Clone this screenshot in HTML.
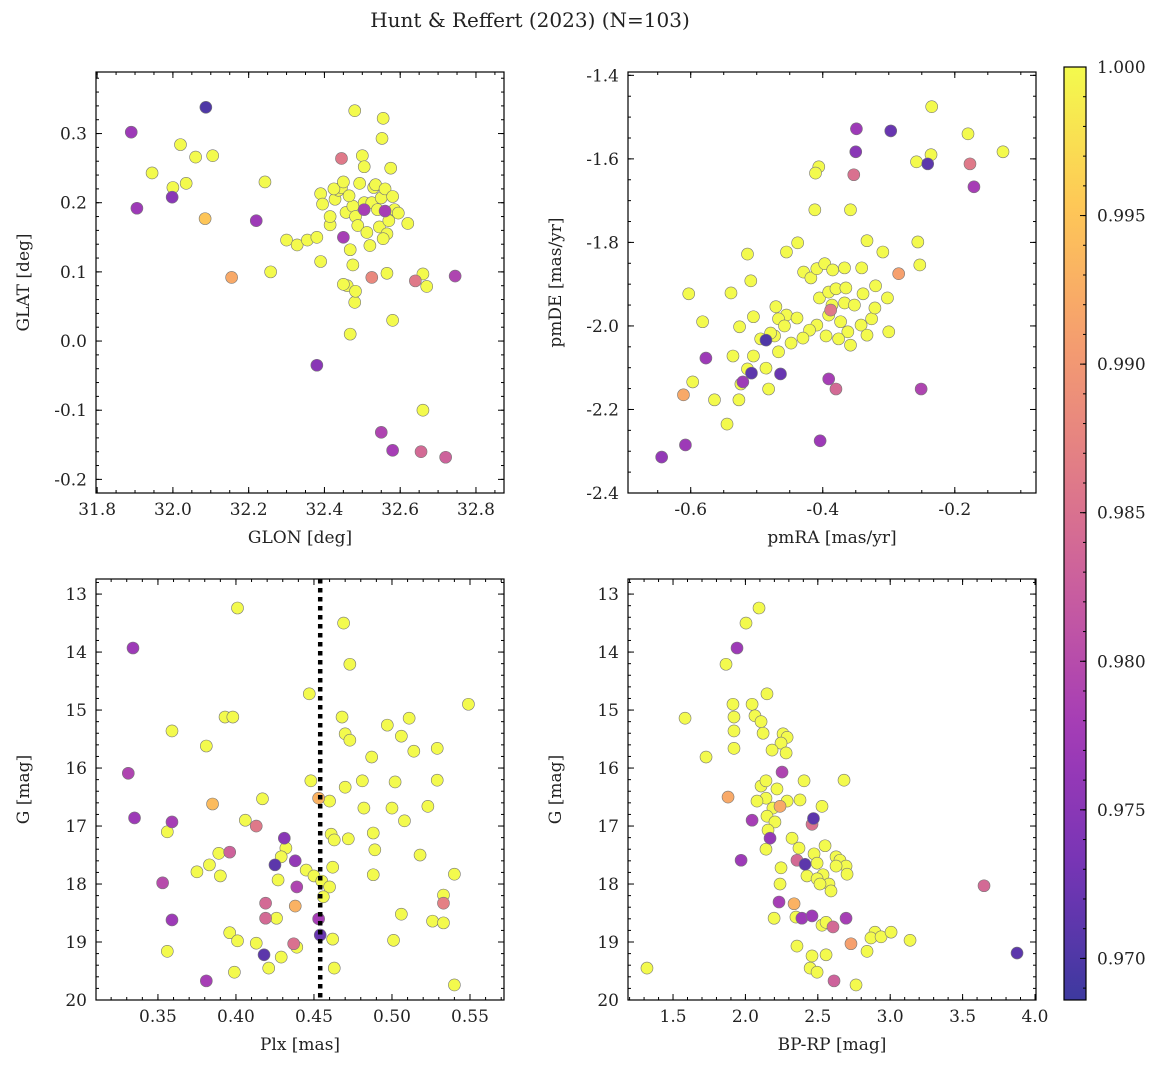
<!DOCTYPE html>
<html><head><meta charset="utf-8"><style>
body{margin:0;background:#fff}
svg text{font-family:"DejaVu Serif","Liberation Serif",serif;fill:#222}
</style></head><body>
<svg id="chart" width="1161" height="1067" viewBox="0 0 1161 1067" xmlns="http://www.w3.org/2000/svg">
<text x="530" y="27" font-size="20" text-anchor="middle">Hunt &amp; Reffert (2023) (N=103)</text>
<defs><linearGradient id="cbg" x1="0" y1="1" x2="0" y2="0"></linearGradient></defs>
</svg>
<script>
// ---- data (value, value, membership probability) ----
const tlYellow=[[31.945,0.243],[32.0,0.222],[32.02,0.284],[32.035,0.228],[32.06,0.266],[32.105,0.268],[32.243,0.230],[32.258,0.1],[32.3,0.146],[32.328,0.139],[32.355,0.146],[32.38,0.150],[32.39,0.115],[32.39,0.213],[32.395,0.198],[32.415,0.168],[32.428,0.205],[32.437,0.218],[32.445,0.222],[32.457,0.186],[32.46,0.08],[32.468,0.132],[32.468,0.01],[32.48,0.333],[32.475,0.195],[32.482,0.18],[32.488,0.167],[32.493,0.228],[32.5,0.268],[32.505,0.2],[32.512,0.157],[32.52,0.138],[32.525,0.2],[32.53,0.222],[32.535,0.226],[32.54,0.19],[32.545,0.165],[32.55,0.207],[32.56,0.22],[32.565,0.155],[32.57,0.174],[32.575,0.25],[32.58,0.209],[32.585,0.19],[32.475,0.11],[32.48,0.056],[32.482,0.072],[32.45,0.082],[32.505,0.252],[32.555,0.322],[32.552,0.293],[32.555,0.148],[32.565,0.098],[32.58,0.03],[32.595,0.185],[32.62,0.17],[32.66,0.097],[32.67,0.079],[32.66,-0.1],[32.425,0.22],[32.415,0.18],[32.45,0.23],[32.465,0.21]];
const tlOther=[[31.89,0.302,.977],[31.905,0.192,.977],[31.998,0.208,.975],[32.087,0.338,.970],[32.22,0.174,.977],[32.085,0.177,.995],[32.155,0.092,.992],[32.445,0.264,.986],[32.45,0.15,.978],[32.505,0.19,.978],[32.56,0.188,.978],[32.525,0.092,.988],[32.38,-0.035,.975],[32.55,-0.132,.979],[32.58,-0.158,.978],[32.64,0.087,.986],[32.655,-0.16,.984],[32.72,-0.168,.983],[32.745,0.094,.979]];
const trYellow=[[-0.235,-1.475],[-0.180,-1.540],[-0.236,-1.590],[-0.258,-1.607],[-0.127,-1.583],[-0.406,-1.619],[-0.411,-1.634],[-0.412,-1.722],[-0.358,-1.722],[-0.438,-1.801],[-0.455,-1.823],[-0.256,-1.799],[-0.253,-1.854],[-0.333,-1.796],[-0.309,-1.823],[-0.429,-1.871],[-0.418,-1.885],[-0.409,-1.863],[-0.397,-1.851],[-0.385,-1.866],[-0.367,-1.861],[-0.341,-1.861],[-0.405,-1.933],[-0.391,-1.919],[-0.380,-1.911],[-0.365,-1.909],[-0.339,-1.923],[-0.320,-1.904],[-0.302,-1.933],[-0.386,-1.950],[-0.367,-1.945],[-0.352,-1.950],[-0.391,-1.974],[-0.342,-1.998],[-0.326,-1.983],[-0.300,-2.014],[-0.362,-2.014],[-0.333,-2.022],[-0.358,-2.046],[-0.376,-2.031],[-0.409,-1.998],[-0.395,-2.024],[-0.420,-2.010],[-0.430,-2.029],[-0.448,-2.041],[-0.467,-2.062],[-0.473,-2.024],[-0.494,-2.031],[-0.479,-2.017],[-0.455,-1.974],[-0.439,-1.981],[-0.471,-1.954],[-0.467,-1.983],[-0.458,-2.0],[-0.514,-1.828],[-0.509,-1.892],[-0.526,-2.002],[-0.539,-1.921],[-0.505,-1.978],[-0.536,-2.072],[-0.505,-2.072],[-0.486,-2.101],[-0.514,-2.103],[-0.524,-2.139],[-0.527,-2.177],[-0.545,-2.235],[-0.597,-2.134],[-0.564,-2.177],[-0.582,-1.990],[-0.603,-1.923],[-0.482,-2.151],[-0.373,-1.990],[-0.321,-1.957]];
const trOther=[[-0.644,-2.314,.976],[-0.608,-2.285,.977],[-0.577,-2.077,.977],[-0.611,-2.165,.992],[-0.521,-2.134,.977],[-0.508,-2.113,.971],[-0.486,-2.034,.970],[-0.464,-2.115,.972],[-0.349,-1.528,.977],[-0.350,-1.583,.975],[-0.353,-1.638,.985],[-0.297,-1.533,.972],[-0.241,-1.612,.971],[-0.177,-1.612,.986],[-0.171,-1.667,.978],[-0.251,-2.151,.979],[-0.285,-1.875,.991],[-0.388,-1.962,.986],[-0.391,-2.127,.978],[-0.380,-2.151,.984],[-0.404,-2.275,.977]];
const blYellow=[[0.401,13.24],[0.469,13.5],[0.473,14.21],[0.447,14.72],[0.549,14.9],[0.359,15.36],[0.393,15.12],[0.398,15.12],[0.381,15.62],[0.468,15.12],[0.47,15.41],[0.473,15.52],[0.497,15.26],[0.511,15.14],[0.506,15.45],[0.514,15.71],[0.529,15.66],[0.487,15.81],[0.47,16.33],[0.481,16.22],[0.448,16.22],[0.417,16.53],[0.46,16.57],[0.502,16.24],[0.529,16.21],[0.523,16.66],[0.482,16.69],[0.5,16.69],[0.356,17.1],[0.406,16.9],[0.508,16.91],[0.461,17.14],[0.472,17.22],[0.463,17.24],[0.488,17.12],[0.489,17.41],[0.432,17.38],[0.429,17.53],[0.389,17.47],[0.518,17.5],[0.383,17.67],[0.39,17.86],[0.375,17.79],[0.427,17.93],[0.445,17.76],[0.45,17.86],[0.455,17.95],[0.46,18.05],[0.456,18.22],[0.462,17.71],[0.488,17.84],[0.54,17.83],[0.533,18.19],[0.506,18.52],[0.426,18.59],[0.526,18.64],[0.533,18.67],[0.396,18.84],[0.401,18.98],[0.413,19.02],[0.439,19.09],[0.462,18.95],[0.501,18.97],[0.356,19.16],[0.421,19.45],[0.429,19.26],[0.463,19.45],[0.399,19.52],[0.54,19.74]];
const blOther=[[0.334,13.93,.977],[0.331,16.09,.979],[0.335,16.86,.977],[0.353,17.98,.980],[0.359,16.93,.978],[0.359,18.62,.977],[0.381,19.67,.978],[0.385,16.62,.994],[0.396,17.45,.983],[0.413,17.0,.986],[0.425,17.67,.971],[0.431,17.21,.975],[0.438,17.6,.976],[0.439,18.05,.979],[0.438,18.38,.993],[0.419,18.33,.984],[0.419,18.59,.984],[0.418,19.22,.971],[0.437,19.03,.985],[0.453,16.52,.993],[0.453,18.6,.978],[0.454,18.88,.972],[0.533,18.33,.987]];
const brYellow=[[1.32,19.45],[2.094,13.24],[2.004,13.5],[1.866,14.21],[2.149,14.72],[1.583,15.14],[1.728,15.81],[1.914,14.9],[1.921,15.12],[1.921,15.36],[1.921,15.66],[2.046,14.9],[2.066,15.1],[2.108,15.2],[2.122,15.4],[2.26,15.41],[2.288,15.47],[2.246,15.57],[2.281,15.74],[2.184,15.69],[2.108,16.31],[2.142,16.22],[2.142,16.52],[2.08,16.57],[2.19,16.69],[2.218,16.36],[2.288,16.57],[2.377,16.55],[2.405,16.22],[2.529,16.66],[2.681,16.21],[2.149,16.83],[2.204,16.93],[2.156,17.07],[2.142,17.4],[2.322,17.21],[2.37,17.38],[2.474,17.48],[2.55,17.34],[2.626,17.53],[2.495,17.64],[2.653,17.59],[2.695,17.69],[2.626,17.69],[2.536,17.84],[2.702,17.83],[2.425,17.86],[2.246,17.72],[2.239,18.0],[2.577,18.0],[2.591,18.12],[2.495,17.91],[2.515,18.0],[2.198,18.59],[2.349,18.57],[2.529,18.71],[2.557,18.66],[2.895,18.83],[2.867,18.93],[2.937,18.91],[3.006,18.83],[3.137,18.97],[2.356,19.07],[2.557,19.22],[2.46,19.24],[2.447,19.45],[2.495,19.52],[2.764,19.74],[2.84,19.16]];
const brOther=[[1.942,13.93,.977],[1.880,16.5,.992],[1.970,17.59,.977],[2.046,16.9,.978],[2.17,17.21,.976],[2.253,16.07,.979],[2.239,16.66,.992],[2.356,17.59,.984],[2.412,17.66,.971],[2.39,18.59,.977],[2.232,18.31,.978],[2.46,16.97,.985],[2.46,18.55,.977],[2.47,16.87,.971],[2.612,19.67,.983],[2.605,18.74,.984],[2.695,18.59,.978],[2.729,19.03,.991],[3.648,18.03,.984],[3.876,19.19,.971],[2.336,18.34,.993]];
const plxCut=[0.454];
const cbTicks=[0.970,0.975,0.980,0.985,0.990,0.995,1.000];

const NS='http://www.w3.org/2000/svg';
const svg=document.getElementById('chart');
function mk(tag,attrs,parent){const e=document.createElementNS(NS,tag);for(const k in attrs)e.setAttribute(k,attrs[k]);(parent||svg).appendChild(e);return e;}
const plasma=[[13,8,135],[84,2,163],[139,10,165],[185,50,137],[219,92,104],[244,136,73],[254,188,43],[240,249,33]];
const VMIN=0.9686,VMAX=1.0;
function cmap(p){let t=Math.max(0,Math.min(1,(p-VMIN)/(VMAX-VMIN)))*(plasma.length-1);const i=Math.min(plasma.length-2,Math.floor(t)),f=t-i;
 const c=plasma[i].map((v,k)=>v+(plasma[i+1][k]-v)*f).map(v=>Math.round(v*0.8+255*0.2));return `rgb(${c[0]},${c[1]},${c[2]})`;}

function panel(name,box,xr,yr,xt,yt,xMinor,yMinor,xfmt,yfmt,xlabel,ylabel,yellow,other){
 const [L,T,R,B]=box;
 const X=v=>L+(v-xr[0])/(xr[1]-xr[0])*(R-L);
 const Y=v=>B-(v-yr[0])/(yr[1]-yr[0])*(B-T);
 const g=mk('g',{});
 
 
 const pts=yellow.map(d=>[d[0],d[1],1.0]).concat(other);
 pts.sort((a,b)=>b[2]-a[2]);
 pts.forEach(d=>{const c=mk('circle',{cx:X(d[0]),cy:Y(d[1]),r:6,fill:cmap(d[2]),stroke:'#777','stroke-width':0.6},g);
  
  });
 const ax=mk('g',{},g);
 
 
 const tk=(x1,y1,x2,y2)=>mk('line',{x1,y1,x2,y2,stroke:'#000','stroke-width':1},ax);
 const inR=(v,r)=>v>=Math.min(r[0],r[1])-1e-9&&v<=Math.max(r[0],r[1])+1e-9;
 const minors=(ticks,m,r)=>{const out=[];const st=(ticks[1]-ticks[0])/m;const hi=Math.max(r[0],r[1]);for(let v=ticks[0]-st*m*2;v<=hi+1e-9;v+=st){if(inR(v,r))out.push(v);}return out;};
 minors(xt,xMinor,xr).forEach(v=>{const x=X(v);tk(x,B,x,B-3);tk(x,T,x,T+3);});
 minors(yt,yMinor,yr).forEach(v=>{const y=Y(v);tk(L,y,L+3,y);tk(R,y,R-3,y);});
 xt.forEach(v=>{if(!inR(v,xr))return;const x=X(v);tk(x,B,x,B-6);tk(x,T,x,T+6);
  const t=mk('text',{x,y:B+22,'font-size':17,'text-anchor':'middle'},ax);t.textContent=xfmt(v);
  });
 yt.forEach(v=>{if(!inR(v,yr))return;const y=Y(v);tk(L,y,L+6,y);tk(R,y,R-6,y);
  const t=mk('text',{x:L-9,y:y+6,'font-size':17,'text-anchor':'end'},ax);t.textContent=yfmt(v);
  });
 mk('rect',{x:L,y:T,width:R-L,height:B-T,fill:'none',stroke:'#000','stroke-width':1.2},ax);
 const xl=mk('text',{x:(L+R)/2,y:B+50,'font-size':17,'text-anchor':'middle'},ax);xl.textContent=xlabel;
 
 const yl=mk('text',{x:0,y:0,'font-size':17,'text-anchor':'middle',transform:`translate(${L-67},${(T+B)/2}) rotate(-90)`},ax);yl.textContent=ylabel;
 
 return {X,Y,g};
}
const f1=v=>v.toFixed(1),f2=v=>v.toFixed(2),f0=v=>v.toFixed(0);
panel('glon-glat',[96,72,504,493],[31.797,32.874],[-0.2197,0.389],[31.8,32.0,32.2,32.4,32.6,32.8],[-0.2,-0.1,0,0.1,0.2,0.3],4,5,f1,f1,'GLON [deg]','GLAT [deg]',tlYellow,tlOther);
panel('pm',[628,72,1036,493],[-0.695,-0.077],[-2.4,-1.392],[-0.6,-0.4,-0.2],[-2.4,-2.2,-2.0,-1.8,-1.6,-1.4],4,4,f1,f1,'pmRA [mas/yr]','pmDE [mas/yr]',trYellow,trOther);
const bl=panel('plx-g',[96,579,504,1000],[0.3103,0.5718],[20,12.74],[0.35,0.40,0.45,0.50,0.55],[13,14,15,16,17,18,19,20],5,5,f2,f0,'Plx [mas]','G [mag]',blYellow,blOther);
panel('cmd',[628,579,1036,1000],[1.189,4.007],[20,12.74],[1.5,2.0,2.5,3.0,3.5,4.0],[13,14,15,16,17,18,19,20],5,5,f1,f0,'BP-RP [mag]','G [mag]',brYellow,brOther);
plxCut.forEach(v=>{const l=mk('line',{x1:bl.X(v),x2:bl.X(v),y1:579,y2:1000,stroke:'#000','stroke-width':4.5,'stroke-dasharray':'4.5 4.5'});
 });
// colorbar
const grad=document.getElementById('cbg');
for(let i=0;i<=20;i++){mk('stop',{offset:i/20,'stop-color':cmap(VMIN+(VMAX-VMIN)*i/20)},grad);}
const cbT=67,cbB=1000,cbL=1064,cbR=1086;
const cb=mk('rect',{x:cbL,y:cbT,width:cbR-cbL,height:cbB-cbT,fill:'url(#cbg)',stroke:'#000','stroke-width':1.2});

const CY=v=>cbB-(v-VMIN)/(VMAX-VMIN)*(cbB-cbT);
for(let v=0.969;v<=1.00001;v+=0.001){mk('line',{x1:cbR,x2:cbR-3,y1:CY(v),y2:CY(v),stroke:'#000'});}
cbTicks.forEach(v=>{mk('line',{x1:cbR,x2:cbR-6,y1:CY(v),y2:CY(v),stroke:'#000'});
 const t=mk('text',{x:cbR+11,y:CY(v)+6,'font-size':17},svg);t.textContent=v.toFixed(3);
 });
</script>
</body></html>
